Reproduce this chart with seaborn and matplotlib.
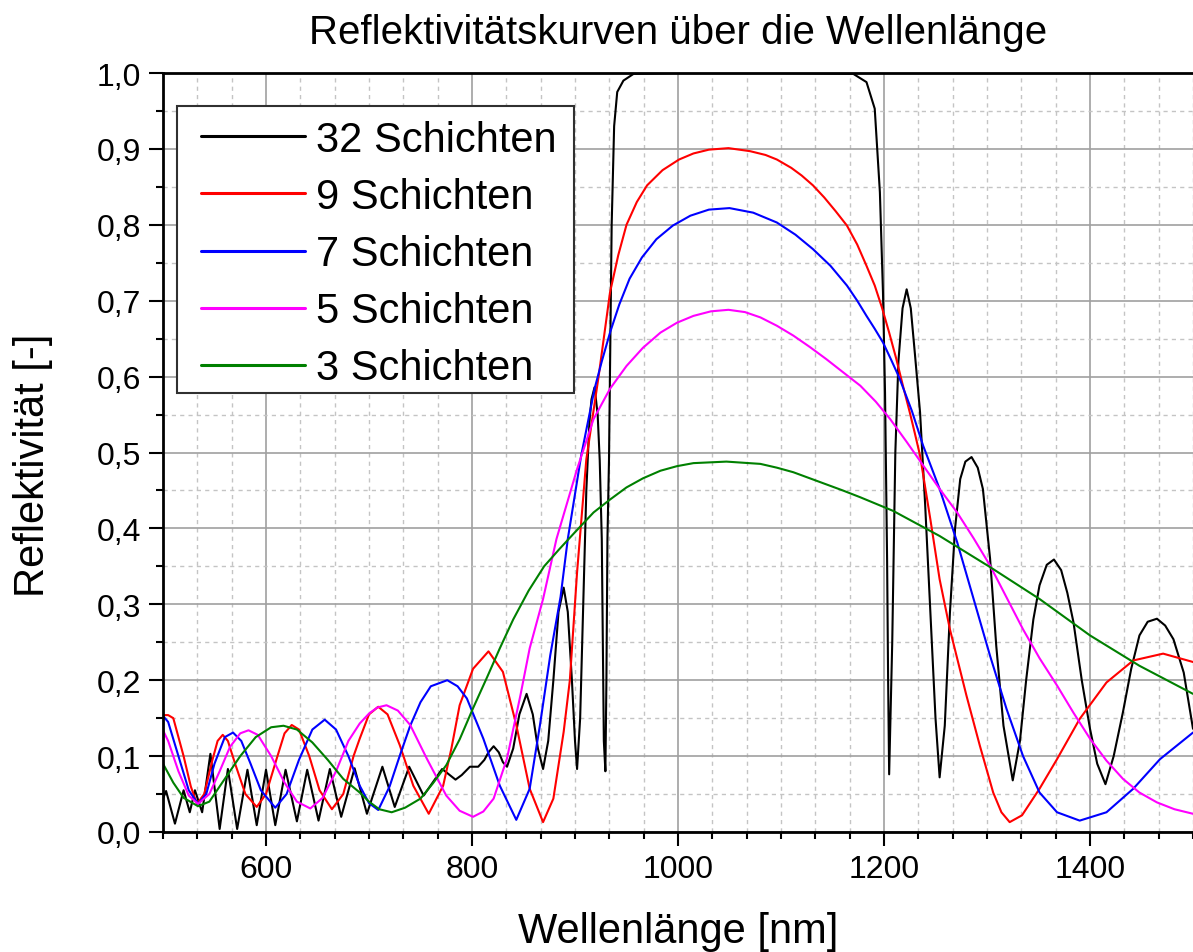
import numpy as np
import pandas as pd
import seaborn as sns
import matplotlib.pyplot as plt
from matplotlib.patches import Rectangle
from matplotlib.ticker import MultipleLocator, AutoMinorLocator, FuncFormatter

sns.set_style("white")
plt.rcParams['font.family'] = ['Liberation Sans', 'DejaVu Sans']
plt.rcParams['text.color'] = 'black'
plt.rcParams['xtick.color'] = 'black'
plt.rcParams['ytick.color'] = 'black'

# 32 Schichten
x32 = [500, 503, 511.6, 520, 526, 531, 538, 546, 555, 563, 572, 582, 591, 600, 609, 619, 630, 640, 651,
       662, 673, 686, 698, 713, 725, 739, 753, 771, 784, 790, 798, 806, 812, 816, 821, 826, 830, 834, 840,
       846, 853, 859, 864, 869, 874, 879, 884, 889, 893, 897, 900, 902, 905, 908, 911, 914, 916, 919, 922,
       924, 926, 927, 928, 929.5, 930.5, 931.5, 933, 935.6, 938, 941, 947, 957, 1000, 1100, 1170, 1183,
       1191, 1196, 1199, 1201, 1203, 1204, 1205, 1208, 1211, 1214, 1218, 1222, 1226, 1230, 1235, 1240,
       1245, 1250, 1254, 1259, 1264, 1269, 1274, 1279, 1285, 1291, 1296, 1303, 1309, 1316, 1325, 1332, 1338,
       1345, 1351, 1358, 1365, 1372, 1378, 1384, 1392, 1400, 1407, 1415, 1423, 1432, 1440, 1448, 1456,
       1465, 1473, 1481, 1491, 1500]
y32 = [0.044, 0.054, 0.011, 0.055, 0.026, 0.055, 0.026, 0.103, 0.004, 0.083, 0.004, 0.082, 0.009, 0.082,
       0.009, 0.082, 0.014, 0.082, 0.015, 0.083, 0.020, 0.084, 0.024, 0.086, 0.033, 0.086, 0.048, 0.083,
       0.069, 0.075, 0.086, 0.086, 0.095, 0.105, 0.113, 0.105, 0.092, 0.086, 0.110, 0.155, 0.182, 0.155,
       0.110, 0.083, 0.120, 0.200, 0.290, 0.322, 0.290, 0.200, 0.120, 0.083, 0.150, 0.300, 0.450, 0.540,
       0.570, 0.586, 0.550, 0.490, 0.386, 0.250, 0.120, 0.080, 0.200, 0.386, 0.490, 0.800, 0.930, 0.975,
       0.990, 0.999, 1.000, 1.000, 0.999, 0.988, 0.953, 0.843, 0.711, 0.579, 0.360, 0.200, 0.076, 0.250,
       0.500, 0.620, 0.690, 0.715, 0.690, 0.630, 0.553, 0.430, 0.289, 0.150, 0.072, 0.140, 0.289, 0.400,
       0.465, 0.488, 0.494, 0.480, 0.452, 0.360, 0.245, 0.140, 0.068, 0.120, 0.200, 0.280, 0.325, 0.352, 0.359,
       0.345, 0.315, 0.276, 0.200, 0.136, 0.090, 0.063, 0.100, 0.158, 0.215, 0.259, 0.277, 0.281, 0.272,
       0.254, 0.210, 0.136]

# 9 Schichten
x9 = [500, 505, 510, 520, 527, 533, 540, 548, 553, 558, 563, 570, 580, 591, 600, 610, 618, 625, 632, 642,
      652, 664, 675, 685, 691, 700, 709, 718, 730, 743, 758, 772, 780, 788, 801, 816, 830, 843, 856, 869,
      879, 889, 895, 902, 911, 923, 934, 942, 950, 960, 970, 985, 1001, 1015, 1030, 1049, 1070, 1085, 1096,
      1110, 1120, 1131, 1142, 1153, 1164, 1174, 1183, 1191, 1198, 1205, 1212, 1218, 1225, 1230, 1235, 1245,
      1254, 1264, 1280, 1293, 1306, 1314, 1322, 1334, 1351, 1368, 1390, 1416, 1442, 1471, 1500]
y9 = [0.154, 0.154, 0.150, 0.100, 0.060, 0.037, 0.050, 0.095, 0.120, 0.128, 0.120, 0.090, 0.050, 0.033,
      0.050, 0.095, 0.130, 0.141, 0.135, 0.100, 0.055, 0.030, 0.050, 0.100, 0.123, 0.155, 0.165, 0.155,
      0.114, 0.061, 0.024, 0.061, 0.110, 0.167, 0.215, 0.238, 0.211, 0.141, 0.057, 0.013, 0.044, 0.132,
      0.200, 0.342, 0.491, 0.601, 0.711, 0.760, 0.800, 0.830, 0.852, 0.872, 0.886, 0.894, 0.899, 0.901,
      0.897, 0.892, 0.886, 0.875, 0.865, 0.852, 0.836, 0.818, 0.799, 0.774, 0.746, 0.720, 0.691, 0.658,
      0.623, 0.590, 0.553, 0.525, 0.496, 0.412, 0.333, 0.267, 0.180, 0.114, 0.052, 0.026, 0.013, 0.022,
      0.057, 0.096, 0.149, 0.197, 0.226, 0.235, 0.224]

# 7 Schichten
x7 = [500, 505, 515, 525, 534, 542, 550, 560, 568, 576, 585, 595, 609, 620, 632, 645, 657, 668, 680, 691,
      700, 709, 720, 730, 740, 750, 760, 776, 786, 795, 811, 827, 843, 856, 866, 876, 886, 893, 906, 919,
      926, 934, 943, 953, 965, 979, 995, 1012, 1030, 1050, 1073, 1096, 1114, 1131, 1148, 1164, 1174, 1183,
      1191, 1199, 1207, 1215, 1227, 1238, 1254, 1271, 1287, 1303, 1319, 1335, 1351, 1368, 1390, 1416,
      1442, 1468, 1500]
y7 = [0.153, 0.145, 0.100, 0.055, 0.037, 0.050, 0.090, 0.125, 0.131, 0.120, 0.090, 0.055, 0.032, 0.050,
      0.095, 0.135, 0.148, 0.135, 0.100, 0.061, 0.038, 0.029, 0.060, 0.101, 0.140, 0.171, 0.192, 0.200,
      0.192, 0.176, 0.123, 0.061, 0.016, 0.057, 0.141, 0.233, 0.310, 0.386, 0.496, 0.584, 0.620, 0.658,
      0.695, 0.729, 0.757, 0.781, 0.799, 0.812, 0.820, 0.822, 0.816, 0.803, 0.787, 0.768, 0.746, 0.720,
      0.700, 0.680, 0.663, 0.645, 0.622, 0.598, 0.555, 0.509, 0.452, 0.382, 0.307, 0.232, 0.162, 0.100,
      0.052, 0.026, 0.015, 0.026, 0.057, 0.096, 0.131]

# 5 Schichten
x5 = [500, 505, 515, 525, 534, 545, 555, 565, 575, 583, 592, 605, 618, 630, 643, 655, 668, 680, 691, 700,
      708, 717, 728, 740, 756, 775, 788, 801, 811, 821, 834, 847, 856, 869, 882, 902, 918, 934, 950, 966,
      983, 999, 1015, 1032, 1049, 1065, 1080, 1096, 1112, 1128, 1144, 1160, 1177, 1192, 1206, 1222, 1238,
      1254, 1271, 1287, 1303, 1319, 1335, 1351, 1368, 1384, 1400, 1416, 1432, 1448, 1465, 1482, 1500]
y5 = [0.134, 0.120, 0.080, 0.048, 0.037, 0.050, 0.080, 0.112, 0.130, 0.134, 0.128, 0.100, 0.065, 0.040,
      0.031, 0.045, 0.080, 0.120, 0.143, 0.156, 0.164, 0.167, 0.160, 0.141, 0.097, 0.048, 0.028, 0.020,
      0.027, 0.044, 0.097, 0.180, 0.242, 0.307, 0.386, 0.478, 0.544, 0.584, 0.614, 0.638, 0.658, 0.671,
      0.680, 0.686, 0.688, 0.685, 0.678, 0.667, 0.654, 0.639, 0.623, 0.606, 0.588, 0.567, 0.544, 0.514,
      0.483, 0.452, 0.421, 0.387, 0.351, 0.309, 0.267, 0.229, 0.193, 0.157, 0.123, 0.094, 0.070, 0.052,
      0.039, 0.030, 0.024]

# 3 Schichten
x3 = [500, 510, 520, 534, 545, 560, 575, 590, 605, 617, 630, 645, 660, 675, 691, 700, 710, 722, 735, 750,
      762, 775, 788, 801, 815, 827, 840, 855, 870, 885, 900, 918, 934, 950, 966, 983, 999, 1015, 1047,
      1080, 1096, 1112, 1128, 1144, 1160, 1177, 1193, 1209, 1254, 1303, 1351, 1400, 1448, 1500]
y3 = [0.090, 0.065, 0.045, 0.034, 0.040, 0.070, 0.100, 0.125, 0.138, 0.140, 0.135, 0.118, 0.095, 0.070,
      0.052, 0.040, 0.030, 0.026, 0.032, 0.044, 0.064, 0.088, 0.122, 0.163, 0.205, 0.242, 0.280, 0.318,
      0.350, 0.373, 0.395, 0.421, 0.438, 0.454, 0.466, 0.476, 0.482, 0.486, 0.488, 0.485, 0.480, 0.474,
      0.466, 0.458, 0.450, 0.441, 0.432, 0.423, 0.390, 0.349, 0.307, 0.259, 0.219, 0.182]

labels = ['32 Schichten', '9 Schichten', '7 Schichten', '5 Schichten', '3 Schichten']
colors = ['#000000', '#FF0000', '#0000FF', '#FF00FF', '#008000']
xs = [x32, x9, x7, x5, x3]
ys = [y32, y9, y7, y5, y3]

df = pd.concat([pd.DataFrame({'Wellenlänge': x, 'Reflektivität': y, 'Serie': lab})
                for x, y, lab in zip(xs, ys, labels)], ignore_index=True)

fig = plt.figure(figsize=(11.93, 9.53), dpi=100)
ax = fig.add_axes([163 / 1193, 120 / 953, 1030 / 1193, 759 / 953])

sns.lineplot(data=df, x='Wellenlänge', y='Reflektivität', hue='Serie', hue_order=labels,
             palette=dict(zip(labels, colors)), estimator=None, sort=False, linewidth=1.5, ax=ax)

ax.set_xlim(500, 1500)
ax.set_ylim(0, 1.0)
ax.xaxis.set_major_locator(MultipleLocator(200))
ax.xaxis.set_minor_locator(AutoMinorLocator(6))
ax.yaxis.set_major_locator(MultipleLocator(0.1))
ax.yaxis.set_minor_locator(MultipleLocator(0.05))
ax.yaxis.set_major_formatter(FuncFormatter(lambda v, p: f"{v:.1f}".replace('.', ',')))
ax.xaxis.set_major_formatter(FuncFormatter(lambda v, p: f"{v:.0f}"))

ax.grid(True, which='major', color='#a0a0a0', linewidth=1.2, linestyle='-')
ax.grid(True, which='minor', color='#c4c4c4', linewidth=1.0, linestyle=(0, (3, 3)))
ax.set_axisbelow(True)

ax.tick_params(which='major', direction='out', length=10, width=1.5, labelsize=23, pad=6,
               bottom=True, left=True, top=False, right=False)
ax.tick_params(which='minor', direction='out', length=5, width=1.5, bottom=True, left=True,
               top=False, right=False)
for s in ['left', 'bottom', 'top']:
    ax.spines[s].set_linewidth(2.0)
    ax.spines[s].set_color('black')
ax.spines['right'].set_visible(False)

ax.set_xlabel('')
ax.set_ylabel('')
fig.text(678 / 1193, 1 - 33 / 953, 'Reflektivitätskurven über die Wellenlänge', ha='center',
         va='center', fontsize=29)
fig.text(678 / 1193, 1 - 932 / 953, 'Wellenlänge [nm]', ha='center', va='center', fontsize=30)
fig.text(33 / 1193, 1 - 465 / 953, 'Reflektivität [-]', ha='center', va='center', fontsize=30,
         rotation=90)

# legend box drawn separately, entries placed inside it
box = Rectangle((177 / 1193, 1 - 394 / 953), 397 / 1193, 287 / 953, transform=fig.transFigure,
                facecolor='white', edgecolor='#303030', linewidth=1.5, zorder=4, clip_on=False)
ax.add_patch(box)

handles, labs = ax.get_legend_handles_labels()
for h in handles:
    h.set_linewidth(2.2)
leg = ax.legend(handles, labs, loc='upper left', bbox_to_anchor=(201 / 1193, 1 - 121 / 953),
                bbox_transform=fig.transFigure, borderaxespad=0, borderpad=0, fontsize=30,
                handlelength=2.5, handletextpad=0.26, labelspacing=0.41, frameon=False)
leg.set_zorder(5)

fig.savefig('out.png', dpi=100)
